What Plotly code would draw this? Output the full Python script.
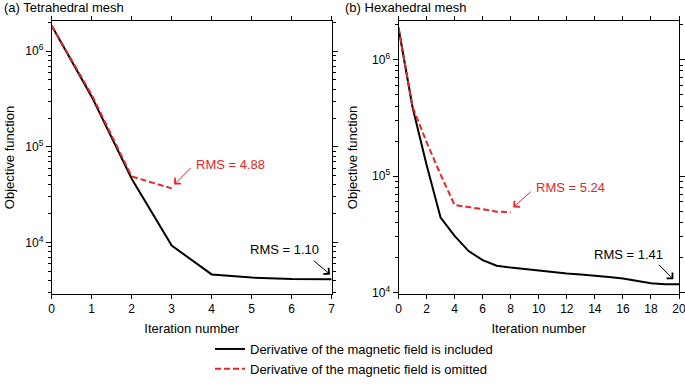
import math
import plotly.graph_objects as go

# ---------------- data ----------------
tet_iter_incl = [0, 1, 2, 3, 4, 5, 6, 7]
tet_obj_incl = [1.85e6, 3.35e5, 4.64e4, 9.3e3, 4.64e3, 4.3e3, 4.16e3, 4.14e3]
tet_iter_omit = [0, 1, 2, 3]
tet_obj_omit = [1.85e6, 3.5e5, 4.9e4, 3.68e4]

hex_iter_incl = list(range(0, 21))
hex_obj_incl = [1.88e6, 3.9e5, 1.25e5, 4.4e4, 3.07e4, 2.27e4, 1.9e4, 1.7e4, 1.64e4,
                1.59e4, 1.54e4, 1.5e4, 1.46e4, 1.43e4, 1.40e4, 1.36e4, 1.32e4,
                1.26e4, 1.2e4, 1.18e4, 1.18e4]
hex_iter_omit = [0, 1, 2, 3, 4, 5, 6, 7, 8]
hex_obj_omit = [1.88e6, 3.95e5, 1.96e5, 1.03e5, 5.65e4, 5.46e4, 5.2e4, 4.95e4, 4.9e4]

legend_labels = ["Derivative of the magnetic field is included",
                 "Derivative of the magnetic field is omitted"]
panel_titles = ["(a) Tetrahedral mesh", "(b) Hexahedral mesh"]
rms_labels = ["RMS = 4.88", "RMS = 1.10", "RMS = 5.24", "RMS = 1.41"]
y_tickvals = [1e4, 1e5, 1e6]
y_ticktext = ["10<sup>4</sup>", "10<sup>5</sup>", "10<sup>6</sup>"]

RED = "#e8262a"
FONT = "Arial, Liberation Sans, sans-serif"
W, H = 685, 384

fig = go.Figure()
fig.add_trace(go.Scatter(x=tet_iter_incl, y=tet_obj_incl, mode="lines",
                         line=dict(color="black", width=2), name=legend_labels[0],
                         xaxis="x", yaxis="y"))
fig.add_trace(go.Scatter(x=tet_iter_omit, y=tet_obj_omit, mode="lines",
                         line=dict(color=RED, width=2, dash="6px,3px"), name=legend_labels[1],
                         xaxis="x", yaxis="y"))
fig.add_trace(go.Scatter(x=hex_iter_incl, y=hex_obj_incl, mode="lines",
                         line=dict(color="black", width=2), showlegend=False,
                         xaxis="x2", yaxis="y2"))
fig.add_trace(go.Scatter(x=hex_iter_omit, y=hex_obj_omit, mode="lines",
                         line=dict(color=RED, width=2, dash="6px,3px"), showlegend=False,
                         xaxis="x2", yaxis="y2"))

ydom = [(H - 304) / H, (H - 22) / H]

def xax(dom, rng, dtick, anchor):
    return dict(domain=dom, range=rng, dtick=dtick, tick0=0, anchor=anchor,
                showline=True, linecolor="black", linewidth=1, mirror="ticks",
                ticks="outside", ticklen=4, tickcolor="black", showgrid=False,
                zeroline=False, automargin=False, ticklabeloverflow="allow",
                tickfont=dict(family=FONT, size=12, color="black"),
                title=dict(text="Iteration number", standoff=8,
                           font=dict(family=FONT, size=13, color="black")))

def yax(rng, anchor, standoff):
    return dict(domain=ydom, type="log", range=rng, anchor=anchor,
                tickvals=y_tickvals, ticktext=y_ticktext,
                showline=True, linecolor="black", linewidth=1, mirror="ticks",
                ticks="outside", ticklen=5, tickcolor="black", showgrid=False,
                zeroline=False, automargin=False, ticklabeloverflow="allow",
                minor=dict(ticks="outside", ticklen=3, tickcolor="black", dtick="D1", showgrid=False),
                tickfont=dict(family=FONT, size=12, color="black"),
                title=dict(text="Objective function", standoff=standoff,
                           font=dict(family=FONT, size=13, color="black")))

fig.update_layout(
    width=W, height=H,
    margin=dict(l=0, r=0, t=0, b=0),
    paper_bgcolor="white", plot_bgcolor="white",
    font=dict(family=FONT, size=13, color="black"),
    xaxis=xax([51.7 / W, 331.7 / W], [0, 7], 1, "y"),
    yaxis=yax([3.465, 6.313], "x", 7),
    xaxis2=xax([398.5 / W, 679 / W], [0, 20], 2, "y2"),
    yaxis2=yax([3.99, 6.33], "x2", 11),
    legend=dict(x=210 / W, y=(H - 346) / H, xanchor="left", yanchor="top",
                font=dict(family=FONT, size=13, color="black"),
                bgcolor="rgba(0,0,0,0)", tracegroupgap=0, itemwidth=30),
)

ann = []
# panel titles
ann.append(dict(text=panel_titles[0], x=2 / W, y=(H - 8) / H, xref="paper", yref="paper",
                xanchor="left", yanchor="middle", showarrow=False,
                font=dict(family=FONT, size=13, color="black")))
ann.append(dict(text=panel_titles[1], x=343 / W, y=(H - 8) / H, xref="paper", yref="paper",
                xanchor="left", yanchor="middle", showarrow=False,
                font=dict(family=FONT, size=13, color="black")))
# RMS labels
lab_pos = [("x", "y", 4.46, 4.818, RED), ("x", "y", 5.83, 3.929, "black"),
           ("x2", "y2", 12.25, 4.906, RED), ("x2", "y2", 16.43, 4.331, "black")]
for t, (xr, yr, xv, yv, c) in zip(rms_labels, lab_pos):
    ann.append(dict(text=t, x=xv, y=yv, xref=xr, yref=yr, showarrow=False,
                    xanchor="center", yanchor="middle",
                    font=dict(family=FONT, size=13, color=c)))
# arrows
arr = [("x", "y", 3.06, 4.606, 18, -18, RED), ("x", "y", 6.96, 3.667, -18, -15, "black"),
       ("x2", "y2", 8.18, 4.731, 19, -17, RED), ("x2", "y2", 19.6, 4.114, -16, -16, "black")]
for xr, yr, xv, yv, axv, ayv, c in arr:
    ann.append(dict(text="", x=xv, y=yv, xref=xr, yref=yr, ax=axv, ay=ayv,
                    showarrow=True, arrowhead=4, arrowsize=1.6, arrowwidth=1,
                    arrowcolor=c))
fig.update_layout(annotations=ann)

fig.write_html("out.html", config={"displayModeBar": False},
               post_script="document.body.style.margin='0';")
